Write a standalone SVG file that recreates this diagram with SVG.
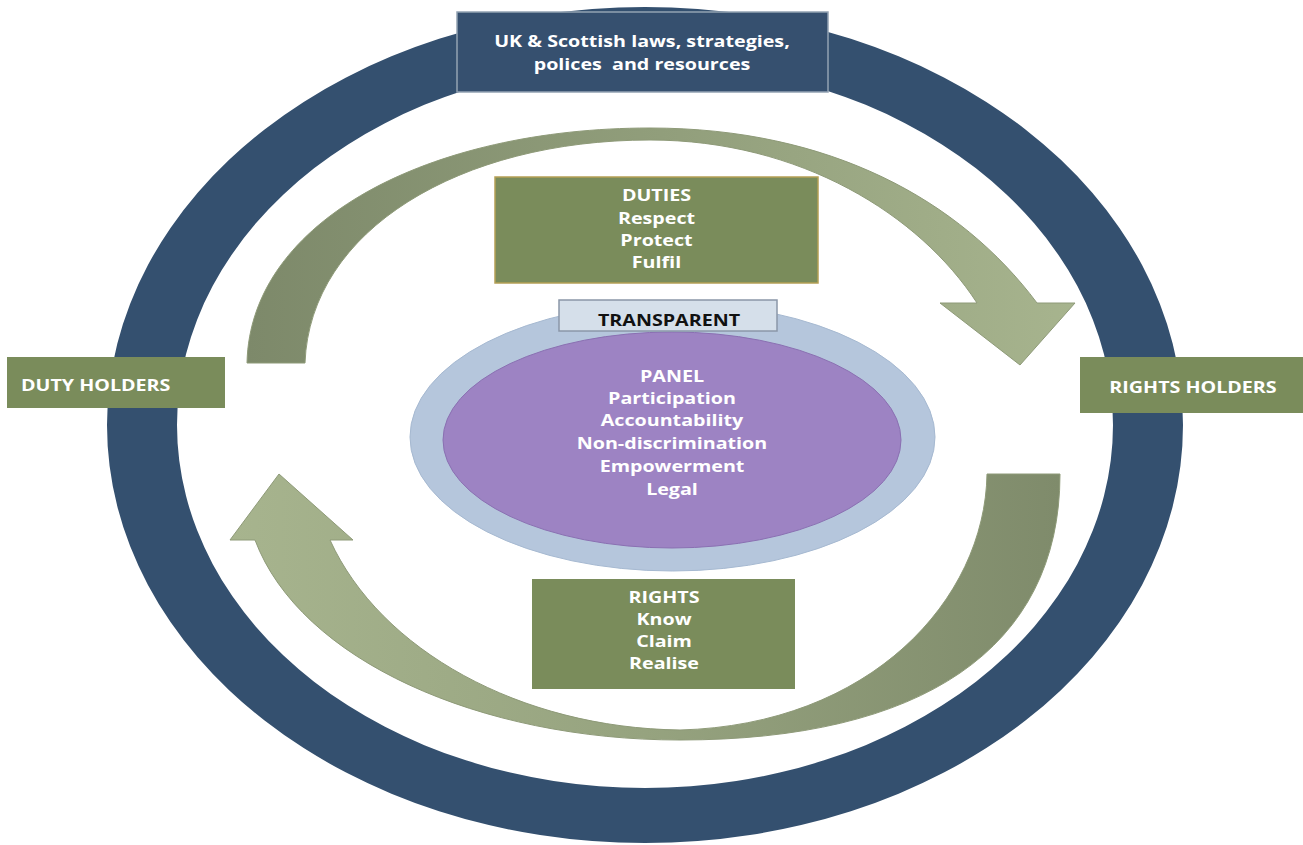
<svg xmlns="http://www.w3.org/2000/svg" width="1303" height="845" viewBox="0 0 1303 845">
<style>
.t{font-family:"Open Sans","Liberation Sans",sans-serif;font-weight:bold;font-size:16px;fill:#ffffff;text-anchor:middle}
.tl{text-anchor:start}
.dk{fill:#111111}
.gbox{fill:#7a8c5b}
</style>
<defs>
<linearGradient id="gTop" gradientUnits="userSpaceOnUse" x1="247" y1="0" x2="1075" y2="0">
<stop offset="0" stop-color="#7d896a"/>
<stop offset="0.5" stop-color="#919e7b"/>
<stop offset="1" stop-color="#a7b48e"/>
</linearGradient>
<linearGradient id="gBot" gradientUnits="userSpaceOnUse" x1="1060" y1="0" x2="230" y2="0">
<stop offset="0" stop-color="#7f8b6b"/>
<stop offset="0.5" stop-color="#96a37f"/>
<stop offset="1" stop-color="#a7b48e"/>
</linearGradient>
</defs>
<rect width="1303" height="845" fill="#ffffff"/>

<g id="ring">
<path fill="#34506f" fill-rule="evenodd" d="M107,425 a538,418 0 1,0 1076,0 a538,418 0 1,0 -1076,0 Z M177,425 a468,363 0 1,0 936,0 a468,363 0 1,0 -936,0 Z"/>
</g>

<g id="connectors">
<path id="arrow-top" fill="url(#gTop)" stroke="#8e9a78" stroke-width="1" d="M247,363 C250,220 430,128 650,128 C830,128 960,200 1037,303 L1075,303 L1020,365 L940,303 L977,303 C920,215 800,140 650,140 C460,140 310,230 305,363 Z"/>
<path id="arrow-bottom" fill="url(#gBot)" stroke="#8e9a78" stroke-width="1" d="M1060,474 C1060,650 920,740 680,740 C480,740 300,660 255,540 L230,540 L279,474 L353,540 L330,540 C380,650 520,728 680,730 C870,725 985,600 987,474 Z"/>
</g>

<g id="node-laws">
<rect x="457" y="12" width="371" height="80" fill="#36506f" stroke="#93a2b3" stroke-width="1.5"/>
<g transform="translate(642,0) scale(1.23,1)">
<text class="t" x="0" y="47">UK &amp; Scottish laws, strategies,</text>
<text class="t" x="0" y="70" xml:space="preserve">polices  and resources</text>
</g>
</g>

<g id="node-duties">
<rect x="495" y="177" width="323" height="106" class="gbox" stroke="#b5a055" stroke-width="1.5"/>
<g transform="translate(656.5,0) scale(1.23,1)">
<text class="t" x="0" y="201">DUTIES</text>
<text class="t" x="0" y="224">Respect</text>
<text class="t" x="0" y="246">Protect</text>
<text class="t" x="0" y="268">Fulfil</text>
</g>
</g>

<g id="node-panel">
<ellipse cx="672.5" cy="437" rx="262.5" ry="134" fill="#b5c6dc" stroke="#a6b9d1" stroke-width="1"/>
<ellipse cx="672" cy="440" rx="229" ry="108" fill="#9d83c3" stroke="#8a70b2" stroke-width="1"/>
<g transform="translate(672,0) scale(1.23,1)">
<text class="t" x="0" y="382">PANEL</text>
<text class="t" x="0" y="404">Participation</text>
<text class="t" x="0" y="426">Accountability</text>
<text class="t" x="0" y="449">Non-discrimination</text>
<text class="t" x="0" y="472">Empowerment</text>
<text class="t" x="0" y="495">Legal</text>
</g>
</g>

<g id="node-transparent">
<rect x="559" y="300" width="218" height="31" fill="#d5dfea" stroke="#8a97a8" stroke-width="1.5"/>
<g transform="translate(669,0) scale(1.23,1)">
<text class="t dk" x="0" y="326">TRANSPARENT</text>
</g>
</g>

<g id="node-duty-holders">
<rect x="7" y="357" width="218" height="51" class="gbox"/>
<g transform="translate(21,0) scale(1.23,1)">
<text class="t tl" x="0" y="391">DUTY HOLDERS</text>
</g>
</g>

<g id="node-rights-holders">
<rect x="1080" y="357" width="223" height="56" class="gbox"/>
<g transform="translate(1193,0) scale(1.23,1)">
<text class="t" x="0" y="393">RIGHTS HOLDERS</text>
</g>
</g>

<g id="node-rights">
<rect x="532" y="579" width="263" height="110" class="gbox"/>
<g transform="translate(664,0) scale(1.23,1)">
<text class="t" x="0" y="603">RIGHTS</text>
<text class="t" x="0" y="625">Know</text>
<text class="t" x="0" y="647">Claim</text>
<text class="t" x="0" y="669">Realise</text>
</g>
</g>
</svg>
